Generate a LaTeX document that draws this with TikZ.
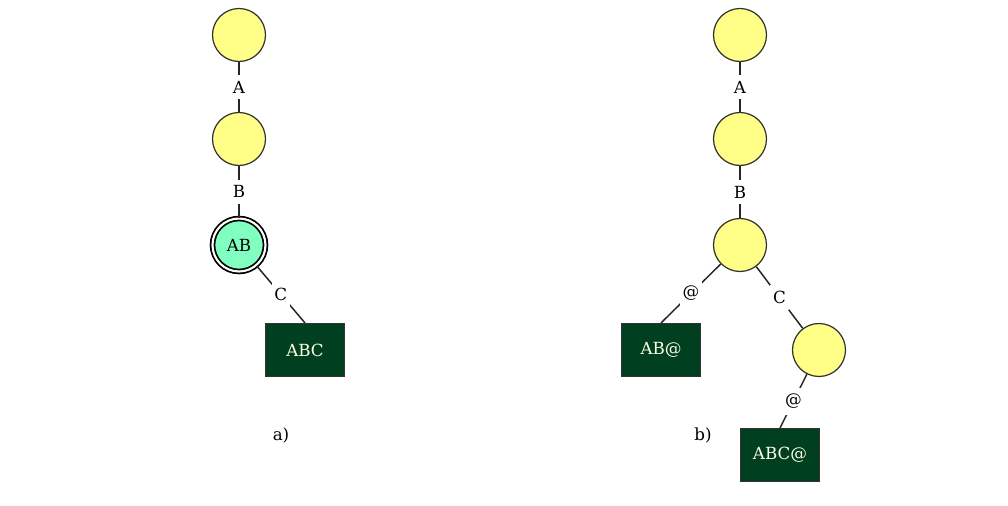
\documentclass[tikz,border=0pt]{standalone}
\usepackage{fontspec}
\setmainfont{DejaVu Serif}
\usepackage{tikz}
\usetikzlibrary{positioning}
\definecolor{stateyellow}{RGB}{255,255,136}
\definecolor{finalgreen}{RGB}{128,255,192}
\definecolor{leafgreen}{RGB}{0,64,32}

\begin{document}
\begin{tikzpicture}[x=0.02cm, y=-0.02cm, font=\fontsize{9.5}{11}\selectfont]
				\tikzstyle{statenode}=[circle, draw=black!80, line width=0.7pt, minimum size=1.06cm, inner sep=0, fill=stateyellow, text=black]
				\tikzstyle{finalnode}=[circle, draw=black, line width=1pt, double=white, double distance=1.2pt, minimum size=1.06cm, inner sep=0, fill=finalgreen, text=black]
				\tikzstyle{leafnode}=[rectangle, draw=black!80, line width=0.6pt, minimum height=1.06cm, minimum width=1.58cm, inner sep=0, fill=leafgreen, text=white!90!yellow]
				\tikzstyle{edgelabel}=[fill=white, inner xsep=1.5pt, inner ysep=3.5pt, text=black]
				\tikzstyle{edge}=[line width=0.85pt, black!85]
				
				\useasboundingbox (0,0) rectangle (1008,506);
				
				% a)
				\node (a0) at (239,35) [statenode] {};
				\node (a1) at (239,139) [statenode] {};
				\node (a2) at (239,245) [finalnode] {AB};
				\node (a3) at (305,350) [leafnode] {ABC};
				\draw [edge] (a0) -- node[edgelabel] {A} (a1);
				\draw [edge] (a1) -- node[edgelabel] {B} (a2);
				\draw [edge] (a2) -- node[edgelabel] {C} (a3.north);
				\node (la) at (281,435) {a)};
				
				% b)
				\node (b0) at (740,35) [statenode] {};
				\node (b1) at (740,139) [statenode] {};
				\node (b2) at (740,245) [statenode] {};
				\node (b3) at (661,350) [leafnode] {AB@};
				\node (b4) at (819,350) [statenode] {};
				\node (b5) at (780,455) [leafnode] {ABC@};
				\draw [edge] (b0) -- node[edgelabel] {A} (b1);
				\draw [edge] (b1) -- node[edgelabel] {B} (b2);
				\draw [edge] (b2) -- node[edgelabel] {@} (b3.north);
				\draw [edge] (b2) -- node[edgelabel] {C} (b4);
				\draw [edge] (b4) -- node[edgelabel] {@} (b5.north);
				\node (lb) at (703,435) {b)};
\end{tikzpicture}
\end{document}
